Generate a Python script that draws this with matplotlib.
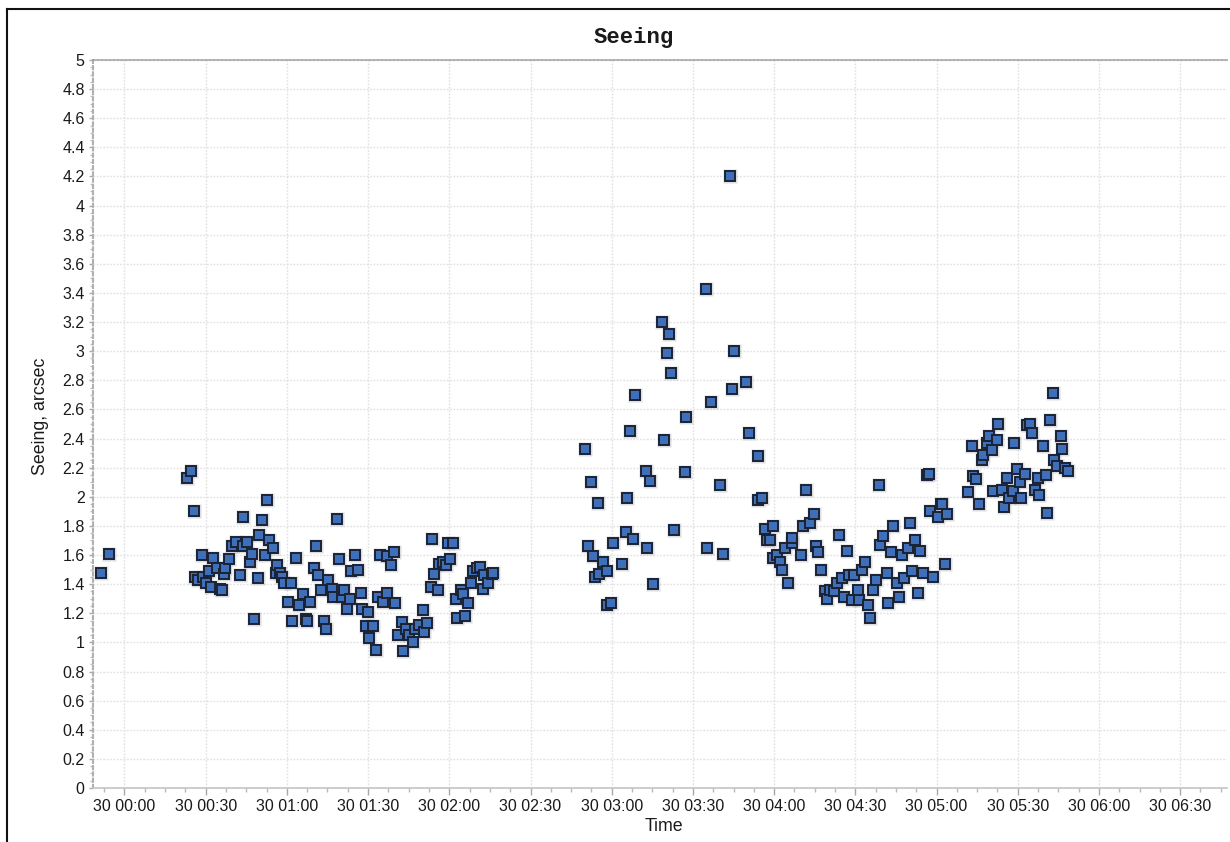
import numpy as np
import matplotlib
matplotlib.use("Agg")
import matplotlib.pyplot as plt
import matplotlib.dates as mdates
from matplotlib.ticker import MultipleLocator, FixedLocator
from matplotlib.lines import Line2D

# ---- data: minutes after 30 00:00, seeing in arcsec ----
minutes_a = [-8.79, -5.62]
seeing_a = [1.48, 1.61]

minutes_b = [23.20, 24.57, 25.68, 26.05, 27.27, 28.52, 29.11, 30.11, 31.22, 31.85,
             32.81, 34.06, 35.28, 35.91, 36.76, 37.13, 38.50, 39.61, 41.08, 42.67,
             43.67, 43.89, 45.37, 46.37, 47.00, 47.85, 49.21, 49.80, 50.80, 51.91,
             52.65, 53.50, 54.75, 55.86, 56.45, 57.45, 58.08, 58.93, 60.52, 61.40,
             62.00, 63.25, 64.47, 66.06, 66.95, 67.54, 68.53, 70.01, 70.86, 71.49,
             72.71, 73.82, 74.33, 75.30, 76.55, 77.14, 78.40, 79.36, 80.47, 81.10,
             82.32, 83.31, 83.68, 85.05, 86.27, 87.27, 87.75, 89.11, 90.07, 90.44,
             91.70, 92.81, 93.77, 94.40, 95.61, 96.87, 97.09, 98.46, 99.57, 100.05,
             101.16, 102.41, 102.78, 104.00, 105.22, 106.48, 107.33, 108.92, 110.17, 110.76,
             111.76, 113.13, 113.50, 114.46, 115.94, 116.31, 117.56, 118.67, 119.41, 120.26,
             121.48, 122.48, 122.96, 124.21, 125.17, 125.80, 127.02, 128.02, 128.65, 130.12,
             131.34, 132.56, 132.82, 134.41, 135.67, 136.04]
seeing_b = [2.13, 2.18, 1.90, 1.45, 1.43, 1.60, 1.45, 1.41, 1.49, 1.38,
            1.58, 1.51, 1.37, 1.36, 1.47, 1.51, 1.57, 1.66, 1.69, 1.46,
            1.66, 1.86, 1.69, 1.55, 1.61, 1.16, 1.44, 1.74, 1.84, 1.60,
            1.98, 1.70, 1.65, 1.48, 1.53, 1.48, 1.45, 1.41, 1.28, 1.41,
            1.15, 1.58, 1.26, 1.33, 1.16, 1.15, 1.28, 1.51, 1.66, 1.46,
            1.36, 1.15, 1.09, 1.43, 1.37, 1.31, 1.85, 1.57, 1.31, 1.36,
            1.23, 1.30, 1.49, 1.60, 1.50, 1.34, 1.23, 1.11, 1.21, 1.03,
            1.11, 0.95, 1.31, 1.60, 1.28, 1.34, 1.59, 1.53, 1.62, 1.27,
            1.05, 1.14, 0.94, 1.09, 1.05, 1.00, 1.09, 1.12, 1.22, 1.07,
            1.13, 1.38, 1.71, 1.47, 1.36, 1.54, 1.55, 1.53, 1.68, 1.57,
            1.68, 1.30, 1.17, 1.36, 1.33, 1.18, 1.27, 1.41, 1.49, 1.51,
            1.52, 1.37, 1.46, 1.41, 1.47, 1.48]

minutes_c = [170.03, 171.13, 172.24, 172.98, 173.83, 175.05, 175.42, 176.79, 178.15, 178.38,
             179.74, 180.59, 183.92, 185.17, 185.76, 186.76, 187.98, 188.61, 192.56, 192.93,
             194.15, 195.37, 198.70, 199.21, 200.32, 201.28, 201.91, 203.13, 207.08, 207.45,
             214.73, 215.32, 216.58, 219.90, 221.01, 223.71, 224.45, 225.30, 229.51, 230.62,
             233.94, 234.17, 235.64, 236.53, 237.27, 238.48, 239.48, 239.71, 240.96, 242.18,
             242.81, 244.03, 245.25, 246.50, 246.72, 250.05, 250.57, 251.79, 253.27, 254.74,
             255.48, 256.33, 257.22, 258.81, 259.44, 260.65, 262.13, 263.13, 264.09, 265.09,
             265.94, 266.83, 267.79, 268.78, 269.52, 270.89, 271.48, 272.59, 273.59, 274.80,
             275.43, 276.43, 277.54, 278.76, 279.13, 280.35, 281.60, 282.19, 283.19, 284.04,
             285.30, 286.15, 287.14, 287.99, 289.36, 290.21, 291.06, 292.17, 293.28, 293.90,
             294.90, 296.60, 297.23, 297.60, 298.82, 300.67, 301.55, 302.14, 303.14, 303.99]
seeing_c = [2.33, 1.66, 2.10, 1.59, 1.45, 1.96, 1.47, 1.55, 1.49, 1.26,
            1.27, 1.68, 1.54, 1.76, 1.99, 2.45, 1.71, 2.70, 2.18, 1.65,
            2.11, 1.40, 3.20, 2.39, 2.99, 3.12, 2.85, 1.77, 2.17, 2.55,
            3.43, 1.65, 2.65, 2.08, 1.61, 4.20, 2.74, 3.00, 2.79, 2.44,
            2.28, 1.98, 1.99, 1.78, 1.70, 1.70, 1.80, 1.58, 1.60, 1.55,
            1.50, 1.65, 1.41, 1.68, 1.72, 1.60, 1.80, 2.05, 1.82, 1.88,
            1.66, 1.62, 1.50, 1.35, 1.30, 1.36, 1.35, 1.41, 1.74, 1.44,
            1.31, 1.63, 1.46, 1.29, 1.46, 1.36, 1.29, 1.50, 1.55, 1.26,
            1.17, 1.36, 1.43, 2.08, 1.67, 1.73, 1.48, 1.27, 1.62, 1.80,
            1.41, 1.31, 1.60, 1.44, 1.65, 1.82, 1.49, 1.70, 1.34, 1.63,
            1.48, 2.15, 2.16, 1.90, 1.45, 1.86, 1.95, 1.95, 1.54, 1.88]

minutes_d = [311.75, 313.01, 313.60, 314.60, 315.70, 316.70, 317.29, 318.55, 319.51, 320.40,
             320.98, 322.46, 322.83, 324.09, 325.05, 325.94, 326.90, 328.16, 328.63, 329.63,
             330.85, 331.22, 332.70, 333.55, 334.55, 335.40, 336.39, 337.39, 337.98, 339.24,
             340.35, 340.72, 341.94, 343.15, 343.52, 344.63, 345.89, 346.48, 347.48, 348.70]
seeing_d = [2.03, 2.35, 2.14, 2.12, 1.95, 2.25, 2.29, 2.37, 2.42, 2.32,
            2.04, 2.39, 2.50, 2.05, 1.93, 2.13, 1.99, 2.04, 2.37, 2.19,
            2.10, 1.99, 2.16, 2.49, 2.50, 2.44, 2.05, 2.13, 2.01, 2.35,
            2.15, 1.89, 2.53, 2.71, 2.25, 2.21, 2.42, 2.33, 2.20, 2.18]

x_min_minutes, x_max_minutes = -11.64, 407.33
y_ticks = [0, 0.2, 0.4, 0.6, 0.8, 1, 1.2, 1.4, 1.6, 1.8, 2, 2.2, 2.4, 2.6, 2.8,
           3, 3.2, 3.4, 3.6, 3.8, 4, 4.2, 4.4, 4.6, 4.8, 5]
y_tick_labels = ["0", "0.2", "0.4", "0.6", "0.8", "1", "1.2", "1.4", "1.6", "1.8", "2",
                 "2.2", "2.4", "2.6", "2.8", "3", "3.2", "3.4", "3.6", "3.8", "4",
                 "4.2", "4.4", "4.6", "4.8", "5"]

# ---- build times ----
base = np.datetime64("2020-01-30T00:00:00")
minutes = np.array(minutes_a + minutes_b + minutes_c + minutes_d)
seeing = np.array(seeing_a + seeing_b + seeing_c + seeing_d)
times = base + (minutes * 60).astype("timedelta64[s]")
xlo = base + np.timedelta64(int(x_min_minutes * 60), "s")
xhi = base + np.timedelta64(int(x_max_minutes * 60), "s")

plt.rcParams["font.family"] = ["Liberation Sans", "DejaVu Sans"]

fig = plt.figure(figsize=(12.30, 8.42), dpi=100)
ax = fig.add_axes([93 / 1230, 1 - 788 / 842, (1227 - 93) / 1230, (788 - 60) / 842])

# shadow + markers
ax.plot(times, seeing, linestyle="none", marker="s", markersize=9.5,
        markerfacecolor="#9aa0aa", markeredgecolor="none", alpha=0.35, zorder=3)
ax.plot(times, seeing, linestyle="none", marker="s", markersize=7.0,
        markerfacecolor="#3f6fb8", markeredgecolor="#1b2233", markeredgewidth=1.4,
        zorder=4)

ax.set_xlim(xlo, xhi)
ax.set_ylim(0, 5)

ax.xaxis.set_major_locator(MultipleLocator(30 / 1440))
ax.xaxis.set_minor_locator(MultipleLocator(7.5 / 1440))
ax.xaxis.set_major_formatter(mdates.DateFormatter("%d %H:%M"))
ax.yaxis.set_major_locator(FixedLocator(y_ticks))
ax.set_yticklabels(y_tick_labels)
ax.yaxis.set_minor_locator(MultipleLocator(0.05))

ax.grid(True, which="major", color="#e0e0e0", linestyle=(0, (1.2, 1.2)), linewidth=1.0, zorder=0)
ax.set_axisbelow(True)

ax.tick_params(axis="x", which="major", length=5, width=1, color="#a8a8a8",
               labelsize=11.5, labelcolor="#1a1a1a", pad=3)
ax.tick_params(axis="x", which="minor", length=3, width=1, color="#b8b8b8")
ax.tick_params(axis="y", which="major", length=3, width=1, color="#a8a8a8",
               labelsize=11.5, labelcolor="#1a1a1a", pad=3)
ax.tick_params(axis="y", which="minor", length=2, width=1, color="#c0c0c0")

ax.spines["right"].set_visible(False)
ax.spines["bottom"].set_color("#c4c4c4")
ax.spines["bottom"].set_linewidth(1.2)
ax.spines["left"].set_color("#b0b0b0")
ax.spines["left"].set_linestyle((0, (1.5, 1.5)))
ax.spines["left"].set_linewidth(1.5)
ax.spines["top"].set_color("#a0a0a0")
ax.spines["top"].set_linestyle((0, (1.2, 1.2)))
ax.spines["top"].set_linewidth(1.2)

ax.set_xlabel("Time", fontsize=12.8, color="#1a1a1a")
ax.set_ylabel("Seeing, arcsec", fontsize=12.8, color="#1a1a1a")
ax.xaxis.set_label_coords((664 - 93) / 1134, -(818 - 788) / 728)
ax.yaxis.set_label_coords((49 - 93) / 1134, (788 - 416) / 728)

fig.text(634 / 1230, 1 - 37 / 842, "Seeing", ha="center", va="center",
         fontsize=16, fontweight="bold", family=["Liberation Mono", "DejaVu Sans Mono"],
         color="#1a1a1a")

# screenshot frame lines (left and top)
fig.add_artist(Line2D([7 / 1230, 7 / 1230], [0, 1 - 9 / 842], transform=fig.transFigure,
                      color="#111111", linewidth=1.5))
fig.add_artist(Line2D([7 / 1230, 1], [1 - 9 / 842, 1 - 9 / 842], transform=fig.transFigure,
                      color="#111111", linewidth=1.5))

fig.savefig("out.png", dpi=100, facecolor="white")
